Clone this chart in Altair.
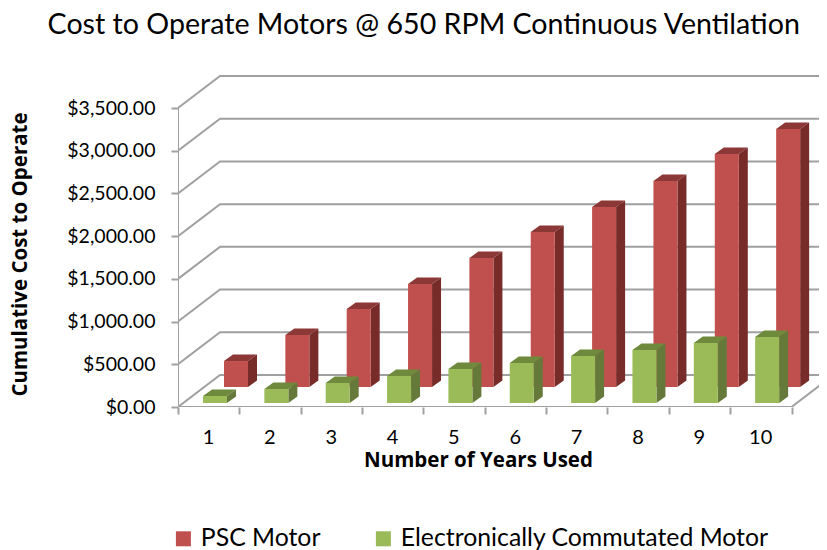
import altair as alt
import pandas as pd

years = [1, 2, 3, 4, 5, 6, 7, 8, 9, 10]
psc_motor = [304, 609, 913, 1206, 1510, 1814, 2107, 2411, 2727, 3020]
ec_motor = [82, 164, 234, 316, 398, 468, 550, 620, 702, 773]
y_ticks = [0, 500, 1000, 1500, 2000, 2500, 3000, 3500]
series_names = ["PSC Motor", "Electronically Commutated Motor"]

FONT = "Lato"
TITLE_FONT = "Open Sans"
GRID = "#A0A0A0"
PLOT_W = 641
PX_X = 1 / 61.35          # data units of x per pixel
PX_Y = 3500 / 299         # dollars per pixel
X_MAX = PLOT_W * PX_X
Y_MAX = 337 * PX_Y
WALL_X, WALL_Y = 42 * PX_X, 32 * PX_Y
DEPTH_X, DEPTH_Y = 9 * PX_X, 6.5 * PX_Y
BAR_W = 24 * PX_X

x_scale = alt.Scale(domain=[0, X_MAX], nice=False, zero=False)
y_scale = alt.Scale(domain=[0, Y_MAX], nice=False, zero=False)
color_scale = alt.Scale(domain=series_names, range=["#C0504D", "#9BBB59"])


def faces(values, name, left_px, base_px):
    front, side, top = [], [], []
    for yr, v in zip(years, values):
        x0 = yr - 1 + left_px * PX_X
        x1 = x0 + BAR_W
        y0 = base_px * PX_Y
        y1 = y0 + v
        front.append(dict(series=name, x=x0, x2=x1, y=y0, y2=y1))
        side.append(dict(b=yr, x=x1, y=y0, y2=y1))
        side.append(dict(b=yr, x=x1 + DEPTH_X, y=y0 + DEPTH_Y, y2=y1 + DEPTH_Y))
        top.append(dict(b=yr, y=y1, x=x0, x2=x1))
        top.append(dict(b=yr, y=y1 + DEPTH_Y, x=x0 + DEPTH_X, x2=x1 + DEPTH_X))
    return pd.DataFrame(front), pd.DataFrame(side), pd.DataFrame(top)


def bar_layers(values, name, left_px, base_px, side_col, top_col):
    f, s, t = faces(values, name, left_px, base_px)
    X = alt.X("x:Q", scale=x_scale)
    Y = alt.Y("y:Q", scale=y_scale, stack=None)
    top = alt.Chart(t).mark_area(orient="horizontal", color=top_col).encode(
        y=Y, x=X, x2="x2:Q", detail="b:N")
    side = alt.Chart(s).mark_area(orient="vertical", color=side_col).encode(
        x=X, y=Y, y2="y2:Q", detail="b:N")
    front = alt.Chart(f).mark_rect().encode(
        x=X, x2="x2:Q", y=Y, y2="y2:Q",
        color=alt.Color("series:N", scale=color_scale, title=None))
    return [top, side, front]


wall_rows = []
for v in y_ticks:
    wall_rows.append(dict(level=v, x=0, y=v))
    wall_rows.append(dict(level=v, x=WALL_X, y=v + WALL_Y))
    wall_rows.append(dict(level=v, x=X_MAX, y=v + WALL_Y))
walls = alt.Chart(pd.DataFrame(wall_rows)).mark_line(
    color=GRID, strokeWidth=2, clip=True
).encode(
    x=alt.X(
        "x:Q", scale=x_scale, title="Number of Years Used",
        axis=alt.Axis(
            values=list(range(0, 11)), labelExpr="datum.value < 10 ? datum.value + 1 : ''",
            labelOffset=30, labelFontSize=20, labelFont=FONT, labelColor="#000",
            labelPadding=13, labelOverlap=False, labelFlush=False,
            tickSize=7, tickWidth=2, tickColor=GRID, domain=False, grid=False,
            titleFont=TITLE_FONT, titleFontSize=20.5, titleFontWeight="bold", titleColor="#000",
            titleX=300, titleY=59, titleAnchor="middle", titleBaseline="alphabetic",
        ),
    ),
    y=alt.Y(
        "y:Q", scale=y_scale, title="Cumulative Cost to Operate",
        axis=alt.Axis(
            values=y_ticks, format="$,.2f", labelFontSize=19.5, labelFont=FONT,
            labelColor="#000", labelPadding=16, labelOverlap=False, labelFlush=False,
            tickSize=7, tickWidth=2, tickColor=GRID, domain=False, grid=False,
            titleFont=TITLE_FONT, titleFontSize=20.5, titleFontWeight="bold", titleColor="#000",
            titleX=-152, titleY=184, titleAnchor="middle", titleBaseline="alphabetic",
        ),
    ),
    detail="level:N",
)

edges = pd.DataFrame([
    dict(e="front", x=0, y=0), dict(e="front", x=10, y=0),
    dict(e="right", x=10, y=0), dict(e="right", x=10 + WALL_X, y=WALL_Y),
    dict(e="axis", x=0, y=0), dict(e="axis", x=0, y=3500),
])
edge_lines = alt.Chart(edges).mark_line(color=GRID, strokeWidth=2, clip=True).encode(
    x=alt.X("x:Q", scale=x_scale),
    y=alt.Y("y:Q", scale=y_scale),
    detail="e:N",
)

layers = [walls, edge_lines]
layers += bar_layers(psc_motor, series_names[0], 46, 20, "#772C2A", "#8C3836")
layers += bar_layers(ec_motor, series_names[1], 25, 4, "#657A3A", "#6F8A3D")

chart = alt.layer(*layers).properties(
    width=PLOT_W,
    height=337,
    padding={"left": 170, "top": 62, "right": 0, "bottom": 143},
    autosize=alt.AutoSizeParams(type="none"),
    title=alt.TitleParams(
        "Cost to Operate Motors @ 650 RPM Continuous Ventilation",
        font=FONT, fontSize=28.6, fontWeight="normal", color="#000",
        anchor="middle", frame="bounds", dx=8, offset=30,
    ),
).configure_view(stroke=None).configure_legend(
    orient="none", legendX=-7, legendY=456, direction="horizontal", columns=2,
    symbolType="square", symbolSize=225, symbolStrokeWidth=0,
    labelFont=FONT, labelFontSize=24.8, labelColor="#000", labelLimit=500,
    columnPadding=50, symbolOffset=0, labelOffset=5,
)

chart.save("out.html", embed_options={"renderer": "svg", "actions": False})
